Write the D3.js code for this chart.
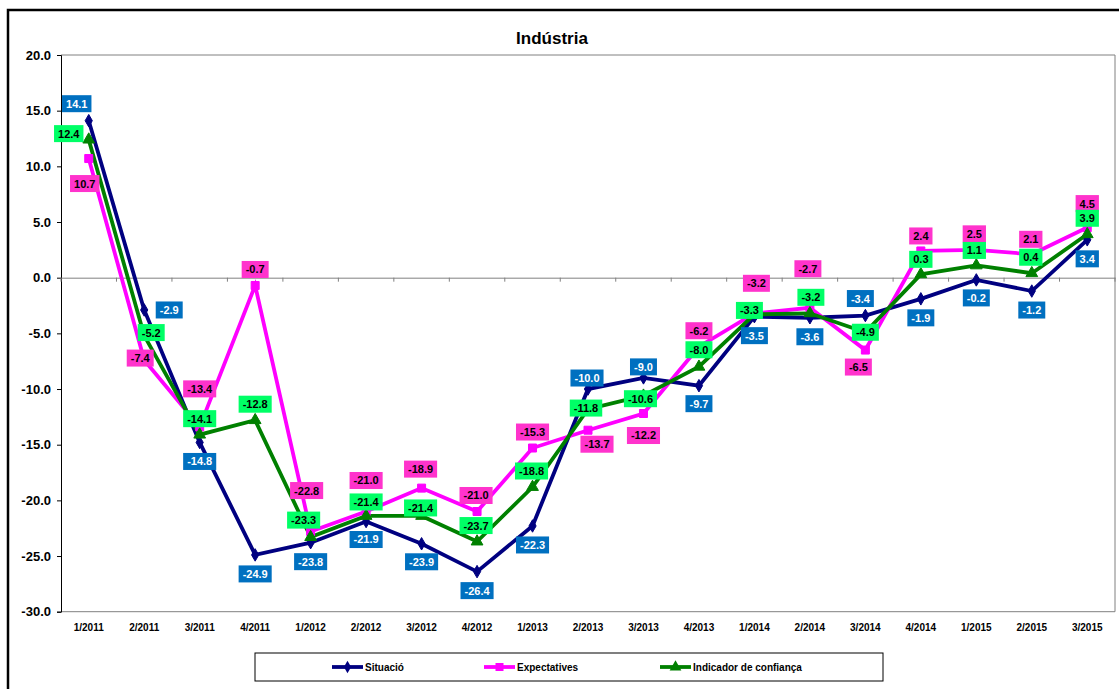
<!DOCTYPE html>
<html>
<head>
<meta charset="utf-8">
<script src="https://cdn.jsdelivr.net/npm/d3@7"></script>
<style>
  html, body { margin: 0; padding: 0; background: #fff; }
  svg { display: block; font-family: "Liberation Sans", Arial, sans-serif; }
</style>
</head>
<body>
<svg id="chart" width="1119" height="689"></svg>
<script>
// ---------- DATA ----------
const categories = ["1/2011","2/2011","3/2011","4/2011","1/2012","2/2012","3/2012","4/2012",
  "1/2013","2/2013","3/2013","4/2013","1/2014","2/2014","3/2014","4/2014","1/2015","2/2015","3/2015"];
const situacio     = [14.1, -2.9, -14.8, -24.9, -23.8, -21.9, -23.9, -26.4, -22.3, -10.0, -9.0, -9.7, -3.5, -3.6, -3.4, -1.9, -0.2, -1.2, 3.4];
const expectatives = [10.7, -7.4, -13.4, -0.7, -22.8, -21.0, -18.9, -21.0, -15.3, -13.7, -12.2, -6.2, -3.2, -2.7, -6.5, 2.4, 2.5, 2.1, 4.5];
const indicador    = [12.4, -5.2, -14.1, -12.8, -23.3, -21.4, -21.4, -23.7, -18.8, -11.8, -10.6, -8.0, -3.3, -3.2, -4.9, 0.3, 1.1, 0.4, 3.9];
const yTicks = [20, 15, 10, 5, 0, -5, -10, -15, -20, -25, -30];
const seriesNames = ["Situació", "Expectatives", "Indicador de confiança"];
const chartTitle = "Indústria";

// ---------- LABEL NUDGES (layout, relative to each point) ----------
const offSituacio = [[-12,-17],[25,0],[0,19],[0,19],[0,19],[0,18],[0,18],[0,19],[0,19],[-1,-11],[0,-11],[0,18],[0,19],[0,19],[-5,-17],[0,19],[0,18],[0,19],[0,19]];
const offExpect   = [[-4,25],[-4,-2],[0,-38],[0,-16],[-4,-41],[0,-31],[-1,-19],[-1,-16],[0,-16],[9,14],[0,22],[0,-16],[2,-30],[-2,-39],[-7,17],[0,-15],[-2,-16],[-1,-15],[0,-24]];
const offIndic    = [[-20,-6],[7,-3],[0,-16],[0,-16],[-7,-17],[0,-14],[-1,-8],[-1,-16],[-1,-16],[-2,-1],[-3,3],[0,-17],[-5,-4],[1,-16],[0,0],[0,-15],[-2,-15],[-1,-16],[0,-16]];

// ---------- STYLE ----------
const series = [
  { name: seriesNames[0], values: situacio,     off: offSituacio, line: "#000080", box: "#0070C0", text: "#ffffff", marker: "diamond" },
  { name: seriesNames[1], values: expectatives, off: offExpect,   line: "#FF00FF", box: "#FF33CC", text: "#000000", marker: "square" },
  { name: seriesNames[2], values: indicador,    off: offIndic,    line: "#008000", box: "#00FF66", text: "#000000", marker: "triangle" }
];

const fmt = v => v.toFixed(1); // plain hyphen-minus, as in the original

const svg = d3.select("#chart");
const L = 61, R = 1115, T = 55, B = 611.7;

const x = d3.scaleBand().domain(categories).range([L, R]).padding(0);
const cx = c => x(c) + x.bandwidth() / 2;
const y = d3.scaleLinear().domain([-30, 20]).range([B, T]);

// outer frame
svg.append("rect").attr("x", 8).attr("y", 10).attr("width", 1200).attr("height", 800)
  .attr("fill", "none").attr("stroke", "#000").attr("stroke-width", 2.5);

// title
svg.append("text").attr("x", 552).attr("y", 44).attr("text-anchor", "middle")
  .attr("font-size", 17).attr("font-weight", "bold").text(chartTitle);

// plot border (gray)
svg.append("path")
  .attr("d", `M${L},${T}H${R}V${B}H${L}`)
  .attr("fill", "none").attr("stroke", "#808080").attr("stroke-width", 1);

// y axis
const yAxis = d3.axisLeft(y).tickValues(yTicks).tickSize(4).tickPadding(6).tickFormat(fmt);
const gy = svg.append("g").attr("transform", `translate(${L},0)`).call(yAxis);
gy.select(".domain").attr("stroke", "#000");
gy.selectAll(".tick line").attr("stroke", "#000");
gy.selectAll("text").attr("font-size", 13).attr("font-weight", "bold").attr("fill", "#000")
  .attr("font-family", "Liberation Sans, Arial, sans-serif");

// zero line with category boundary ticks
const zeroY = y(0);
const gx = svg.append("g").attr("transform", `translate(0,${zeroY})`)
  .call(d3.axisBottom(x).tickSize(0).tickFormat(""));
gx.select(".domain").attr("stroke", "#808080").attr("stroke-width", 1);
const boundaries = categories.map(c => x(c)).concat([R]);
svg.append("g").selectAll("line").data(boundaries).join("line")
  .attr("x1", d => d).attr("x2", d => d).attr("y1", zeroY).attr("y2", zeroY + 4)
  .attr("stroke", "#808080");

// x category labels at bottom
svg.append("g").selectAll("text").data(categories).join("text")
  .attr("x", d => cx(d)).attr("y", 631).attr("text-anchor", "middle")
  .attr("font-size", 10).attr("font-weight", "bold").text(d => d);

// lines
const lineGen = d3.line().x((d, i) => cx(categories[i])).y(d => y(d));
series.forEach(s => {
  svg.append("path").datum(s.values).attr("d", lineGen)
    .attr("fill", "none").attr("stroke", s.line).attr("stroke-width", 3.8)
    .attr("stroke-linejoin", "miter");
});

// markers
const symbolFor = m => m === "diamond" ? d3.symbolDiamond : m === "square" ? d3.symbolSquare : d3.symbolTriangle;
const sizeFor = m => m === "diamond" ? 45 : m === "square" ? 64 : 60;
series.forEach(s => {
  svg.append("g").selectAll("path").data(s.values).join("path")
    .attr("transform", (d, i) => `translate(${cx(categories[i])},${y(d)})`)
    .attr("d", d3.symbol().type(symbolFor(s.marker)).size(sizeFor(s.marker)))
    .attr("fill", s.line).attr("stroke", s.line).attr("stroke-width", 1);
});

// data labels
series.forEach(s => {
  const g = svg.append("g");
  s.values.forEach((v, i) => {
    const px = cx(categories[i]) + s.off[i][0];
    const py = y(v) + s.off[i][1];
    const lg = g.append("g").attr("transform", `translate(${px},${py})`);
    const t = lg.append("text").attr("text-anchor", "middle").attr("dy", "0.36em")
      .attr("font-size", 11).attr("font-weight", "bold").attr("fill", s.text)
      .text(fmt(v));
    const w = t.node().getComputedTextLength() + 8;
    lg.insert("rect", "text").attr("x", -w / 2).attr("y", -8.5).attr("width", w).attr("height", 17)
      .attr("fill", s.box);
  });
});

// legend
svg.append("rect").attr("x", 255).attr("y", 653).attr("width", 628).attr("height", 28)
  .attr("fill", "#fff").attr("stroke", "#000").attr("stroke-width", 1);
const legendPos = [332, 484, 660];
series.forEach((s, k) => {
  const lx = legendPos[k], ly = 667;
  svg.append("line").attr("x1", lx).attr("x2", lx + 31).attr("y1", ly).attr("y2", ly)
    .attr("stroke", s.line).attr("stroke-width", 3.8);
  svg.append("path").attr("transform", `translate(${lx + 15.5},${ly})`)
    .attr("d", d3.symbol().type(symbolFor(s.marker)).size(sizeFor(s.marker)))
    .attr("fill", s.line);
  svg.append("text").attr("x", lx + 33).attr("y", ly).attr("dy", "0.36em")
    .attr("font-size", 10).attr("font-weight", "bold").text(s.name);
});
</script>
</body>
</html>
